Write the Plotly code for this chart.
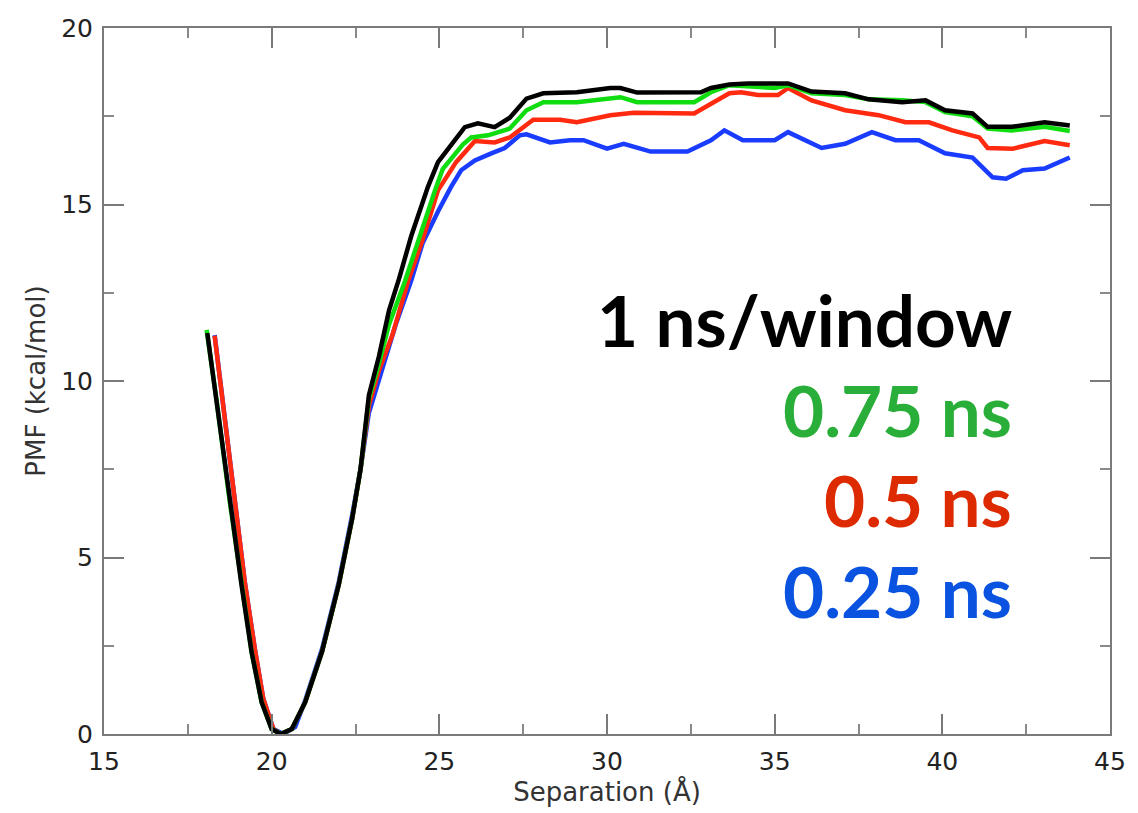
import plotly.graph_objects as go

# ---- data ----
black_x = [18.08, 18.35, 18.74, 19.1, 19.4, 19.7, 20.0, 20.27, 20.6, 21.0, 21.5, 22.0, 22.4, 22.65, 22.9, 23.2, 23.5, 23.8,
           24.16, 24.66, 24.96, 25.47, 25.76, 26.15, 26.65, 27.1, 27.6, 28.1, 29.1, 30.1, 30.4, 30.9, 32.1, 32.8, 33.1,
           33.65, 34.2, 35.0, 35.4, 36.1, 37.1, 37.8, 38.8, 39.5, 40.08, 40.9, 41.35, 42.07, 43.05, 43.8]
black_y = [11.36, 9.43, 6.6, 4.23, 2.33, 0.9, 0.14, 0.0, 0.14, 0.9, 2.33, 4.23, 6.1, 7.5, 9.6, 10.7, 12.0, 12.9,
           14.1, 15.5, 16.2, 16.8, 17.19, 17.3, 17.19, 17.46, 18.0, 18.15, 18.18, 18.3, 18.3, 18.17, 18.18, 18.18, 18.3,
           18.4, 18.43, 18.43, 18.43, 18.2, 18.15, 17.98, 17.9, 17.95, 17.67, 17.58, 17.2, 17.2, 17.33, 17.24]

green_x = [18.06, 18.35, 18.74, 19.1, 19.4, 19.7, 20.0, 20.27, 20.6, 21.0, 21.5, 22.0, 22.4, 22.65, 22.9, 23.2, 23.5,
           23.98, 24.37, 24.87, 25.1, 25.7, 25.95, 26.45, 27.1, 27.6, 28.1, 29.1, 30.4, 30.9, 32.6, 33.1, 33.65, 35.0,
           35.4, 36.1, 37.1, 37.8, 38.8, 39.5, 40.08, 40.9, 41.35, 42.07, 43.05, 43.8]
green_y = [11.45, 9.5, 6.65, 4.25, 2.33, 0.9, 0.14, 0.0, 0.14, 0.9, 2.33, 4.23, 6.1, 7.5, 9.5, 10.5, 11.6,
           12.84, 13.98, 15.4, 16.0, 16.7, 16.9, 16.96, 17.15, 17.67, 17.9, 17.9, 18.04, 17.9, 17.9, 18.18, 18.38, 18.3,
           18.38, 18.15, 18.1, 17.98, 17.95, 17.9, 17.62, 17.5, 17.15, 17.1, 17.2, 17.08]

red_x = [18.3, 18.55, 18.9, 19.2, 19.5, 19.75, 20.05, 20.27, 20.6, 21.0, 21.5, 22.0, 22.4, 22.65, 22.9, 23.2, 23.6,
         24.07, 24.5, 24.96, 25.5, 26.06, 26.65, 27.1, 27.8, 28.6, 29.1, 30.1, 30.8, 32.6, 33.65, 34.0, 34.5, 35.1,
         35.4, 36.1, 37.1, 38.1, 38.9, 39.6, 40.3, 41.1, 41.35, 42.1, 43.05, 43.8]
red_y = [11.28, 9.4, 6.6, 4.3, 2.4, 1.0, 0.14, 0.0, 0.14, 0.9, 2.33, 4.23, 6.1, 7.5, 9.3, 10.3, 11.3,
         12.84, 14.0, 15.4, 16.2, 16.8, 16.76, 16.9, 17.4, 17.4, 17.33, 17.53, 17.6, 17.58, 18.15, 18.18, 18.1, 18.1,
         18.3, 17.95, 17.67, 17.53, 17.33, 17.33, 17.1, 16.9, 16.6, 16.58, 16.8, 16.68]

blue_x = [18.3, 18.55, 18.9, 19.2, 19.5, 19.75, 20.05, 20.35, 20.7, 21.0, 21.5, 22.0, 22.4, 22.65, 22.9, 23.33, 23.7,
          24.16, 24.5, 24.96, 25.35, 25.65, 26.06, 26.55, 26.95, 27.4, 27.6, 28.3, 28.9, 29.3, 30.0, 30.5, 31.3, 32.4,
          33.1, 33.5, 34.05, 35.0, 35.4, 36.4, 37.1, 37.9, 38.6, 39.3, 40.08, 40.9, 41.5, 41.9, 42.4, 43.05, 43.8]
blue_y = [11.3, 9.4, 6.6, 4.3, 2.4, 1.0, 0.14, 0.0, 0.2, 0.95, 2.4, 4.3, 6.2, 7.5, 9.1, 10.5, 11.6,
          12.84, 13.9, 14.8, 15.5, 15.97, 16.25, 16.45, 16.6, 16.96, 16.99, 16.76, 16.82, 16.82, 16.58, 16.72, 16.5, 16.5,
          16.82, 17.1, 16.82, 16.82, 17.05, 16.6, 16.72, 17.05, 16.82, 16.82, 16.45, 16.33, 15.77, 15.73, 15.97, 16.02, 16.33]

series = [
    ("0.25 ns", blue_x, blue_y, "#1a3cff", "#0a52e0"),
    ("0.5 ns", red_x, red_y, "#ff2a10", "#dd2a00"),
    ("0.75 ns", green_x, green_y, "#10dd10", "#2aae3a"),
    ("1 ns/window", black_x, black_y, "#000000", "#000000"),
]

x_ticks = [15, 20, 25, 30, 35, 40, 45]
y_ticks = [0, 5, 10, 15, 20]

fig = go.Figure()
for name, xs, ys, lc, tc in series:
    fig.add_trace(go.Scatter(x=xs, y=ys, mode="lines", name=name,
                             line=dict(color=lc, width=4.5), showlegend=False))

# legend-like labels (top to bottom)
label_order = ["1 ns/window", "0.75 ns", "0.5 ns", "0.25 ns"]
label_colors = {s[0]: s[4] for s in series}
for i, name in enumerate(label_order):
    fig.add_annotation(x=0.905, xref="paper", y=11.75 - i * 2.557, yref="y",
                       text=f"<b>{name}</b>", showarrow=False,
                       xanchor="right", yanchor="middle",
                       font=dict(family="Lato", size=71, color=label_colors[name]))

axis_common = dict(showline=True, linecolor="#7a7a7a", linewidth=2, mirror="allticks",
                   ticks="inside", ticklen=20, tickwidth=2, tickcolor="#7a7a7a",
                   showgrid=False, zeroline=False,
                   tickfont=dict(family="DejaVu Sans", size=25, color="#222"),
                   minor=dict(ticks="inside", ticklen=10, tickwidth=2, tickcolor="#8a8a8a", showgrid=False))

fig.update_xaxes(range=[15, 45], tickvals=x_ticks, ticktext=[str(v) for v in x_ticks],
                 ticklabelstandoff=4,
                 title=dict(text="Separation (Å)", font=dict(family="DejaVu Sans", size=26, color="#333"), standoff=4),
                 **axis_common)
fig.update_xaxes(minor_dtick=2.5, minor_tick0=15)
fig.update_yaxes(range=[0, 20], tickvals=y_ticks, ticktext=[str(v) for v in y_ticks],
                 ticklabelstandoff=4,
                 title=dict(text="PMF (kcal/mol)", font=dict(family="DejaVu Sans", size=26, color="#333"), standoff=8),
                 **axis_common)
fig.update_yaxes(minor_dtick=2.5, minor_tick0=0)

fig.update_layout(width=1138, height=813, margin=dict(l=104, r=22, t=28, b=79),
                  plot_bgcolor="white", paper_bgcolor="white")

fig.write_html("out.html")
